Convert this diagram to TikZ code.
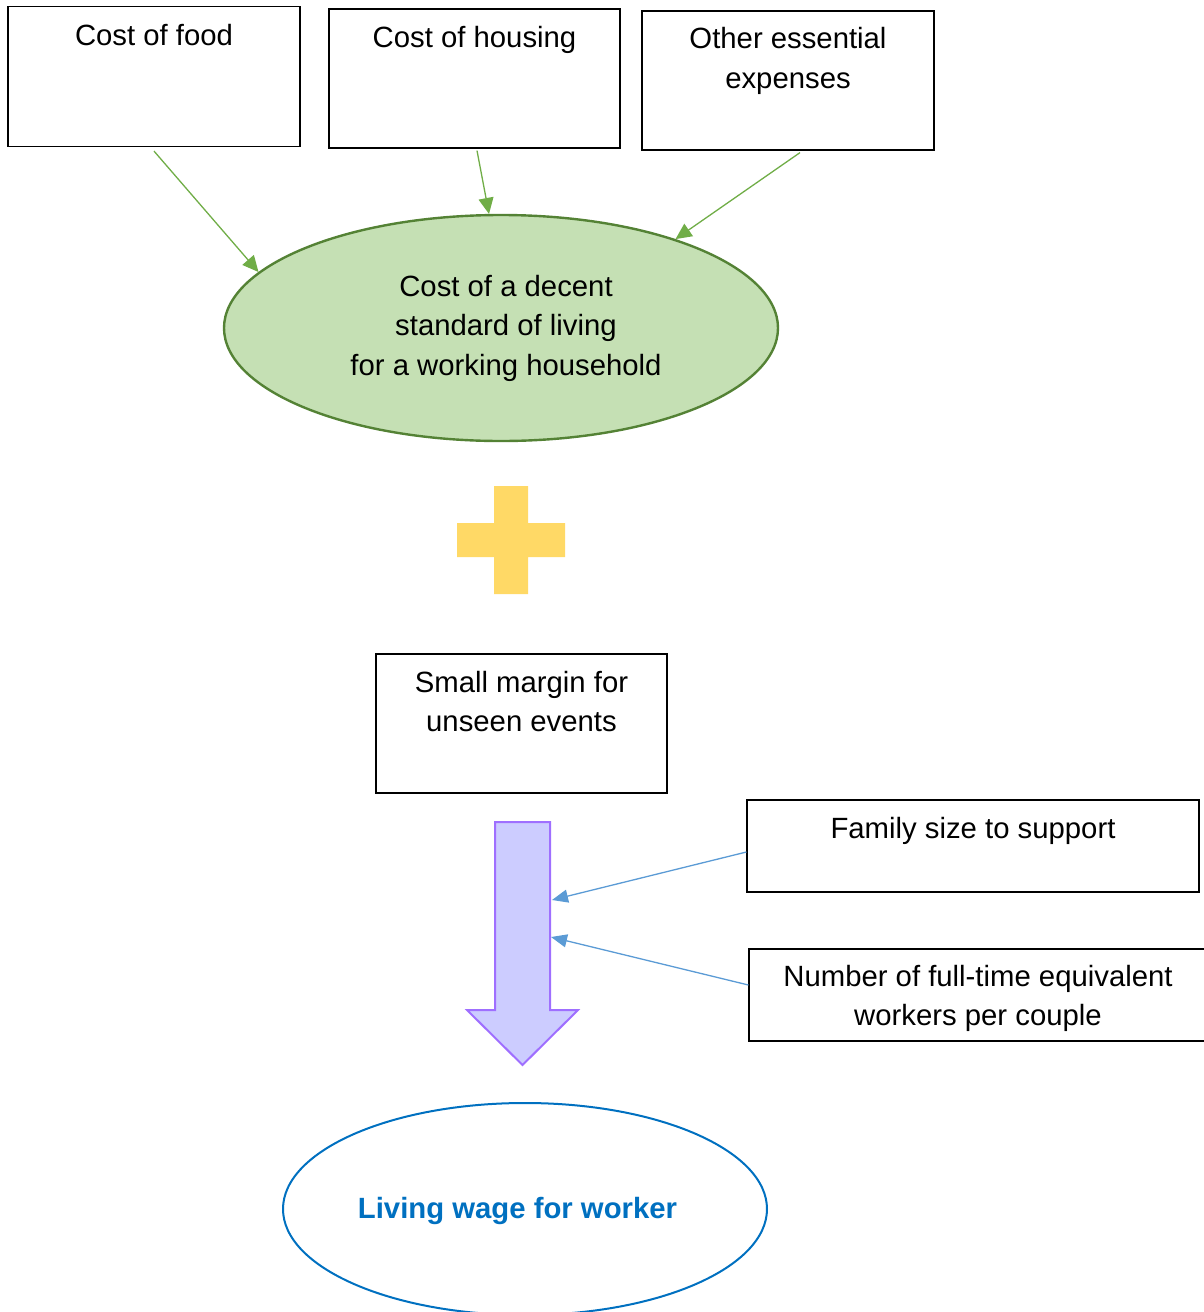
\documentclass[tikz,border=0pt]{standalone}
\usepackage{fontspec}
\setmainfont{Liberation Sans}
\usetikzlibrary{shapes.geometric,arrows.meta}
\definecolor{boxline}{HTML}{000000}
\definecolor{gfill}{HTML}{C5E0B4}
\definecolor{gline}{HTML}{548235}
\definecolor{garrow}{HTML}{70AD47}
\definecolor{plusc}{HTML}{FFD966}
\definecolor{afill}{HTML}{CCCCFF}
\definecolor{aline}{HTML}{9F6FFF}
\definecolor{barrow}{HTML}{5B9BD5}
\definecolor{wage}{HTML}{0070C0}
\begin{document}
\begin{tikzpicture}[x=1pt,y=-1pt,
  every node/.style={font=\fontsize{29.3}{39.5}\selectfont},
  infobox/.style={draw=boxline,line width=1.2pt,rectangle,inner sep=0pt},
  txt/.style={inner sep=0pt,align=center,anchor=north},
  garr/.style={draw=garrow,line width=1.3pt,-{Triangle[length=16pt,width=15pt]}},
  barr/.style={draw=barrow,line width=1.3pt,-{Triangle[length=16pt,width=13pt]}}]
\useasboundingbox (0,0) rectangle (1203,1312);
% top boxes
\node[infobox,minimum width=292pt,minimum height=140pt] (food) at (154,76.5) {};
\node[txt] (foodt) at (154,24) {Cost of food};
\node[infobox,minimum width=291pt,minimum height=139pt] (housing) at (474.5,78.5) {};
\node[txt] (housingt) at (474.5,26) {Cost of housing};
\node[infobox,minimum width=292pt,minimum height=139pt] (other) at (788,80.5) {};
\node[txt] (othert) at (788,27.5) {Other essential\\expenses};
% green ellipse
\node[ellipse,draw=gline,fill=gfill,line width=2.4pt,minimum width=554pt,minimum height=226pt,inner sep=0pt] (green) at (501,328) {};
\node[inner sep=0pt,align=center] (greent) at (506,328) {Cost of a decent\\standard of living\\for a working household};
\draw[garr] ([yshift=-4pt]food.south) -- (green.167);
\draw[garr] ([xshift=2.5pt,yshift=-2pt]housing.south) -- (green.96.9);
\draw[garr] ([xshift=12pt,yshift=-2pt]other.south) -- (green.27.4);
% plus
\fill[plusc] (494,486) -- (528,486) -- (528,523) -- (565,523) -- (565,557) -- (528,557) -- (528,594) -- (494,594) -- (494,557) -- (457,557) -- (457,523) -- (494,523) -- cycle;
% margin box
\node[infobox,minimum width=291pt,minimum height=139pt] (margin) at (521.5,723.5) {};
\node[txt] (margint) at (521.5,671) {Small margin for\\unseen events};
% block arrow
\draw[aline,fill=afill,line width=2pt,line join=miter] (495,822) -- (550,822) -- (550,1010) -- (578,1010) -- (522.5,1065) -- (467,1010) -- (495,1010) -- cycle;
\coordinate (shaftA) at (552,900);
\coordinate (shaftB) at (551,937);
% side boxes
\node[infobox,minimum width=452pt,minimum height=92pt] (family) at (973,846) {};
\node[txt] (familyt) at (973,817) {Family size to support};
\node[infobox,minimum width=458pt,minimum height=92pt] (workers) at (978,995) {};
\node[txt] (workerst) at (978,965) {Number of full-time equivalent\\workers per couple};
\draw[barr] ([yshift=-6pt]family.west) -- (shaftA);
\draw[barr] ([yshift=10pt]workers.west) -- (shaftB);
% final ellipse
\node[ellipse,draw=wage,line width=2pt,minimum width=484pt,minimum height=212pt,inner sep=0pt] (wageell) at (525,1209) {};
\node[inner sep=0pt,text=wage,font=\fontsize{29.3}{34}\selectfont\bfseries] (waget) at (517.5,1211) {Living wage for worker};
\end{tikzpicture}
\end{document}
